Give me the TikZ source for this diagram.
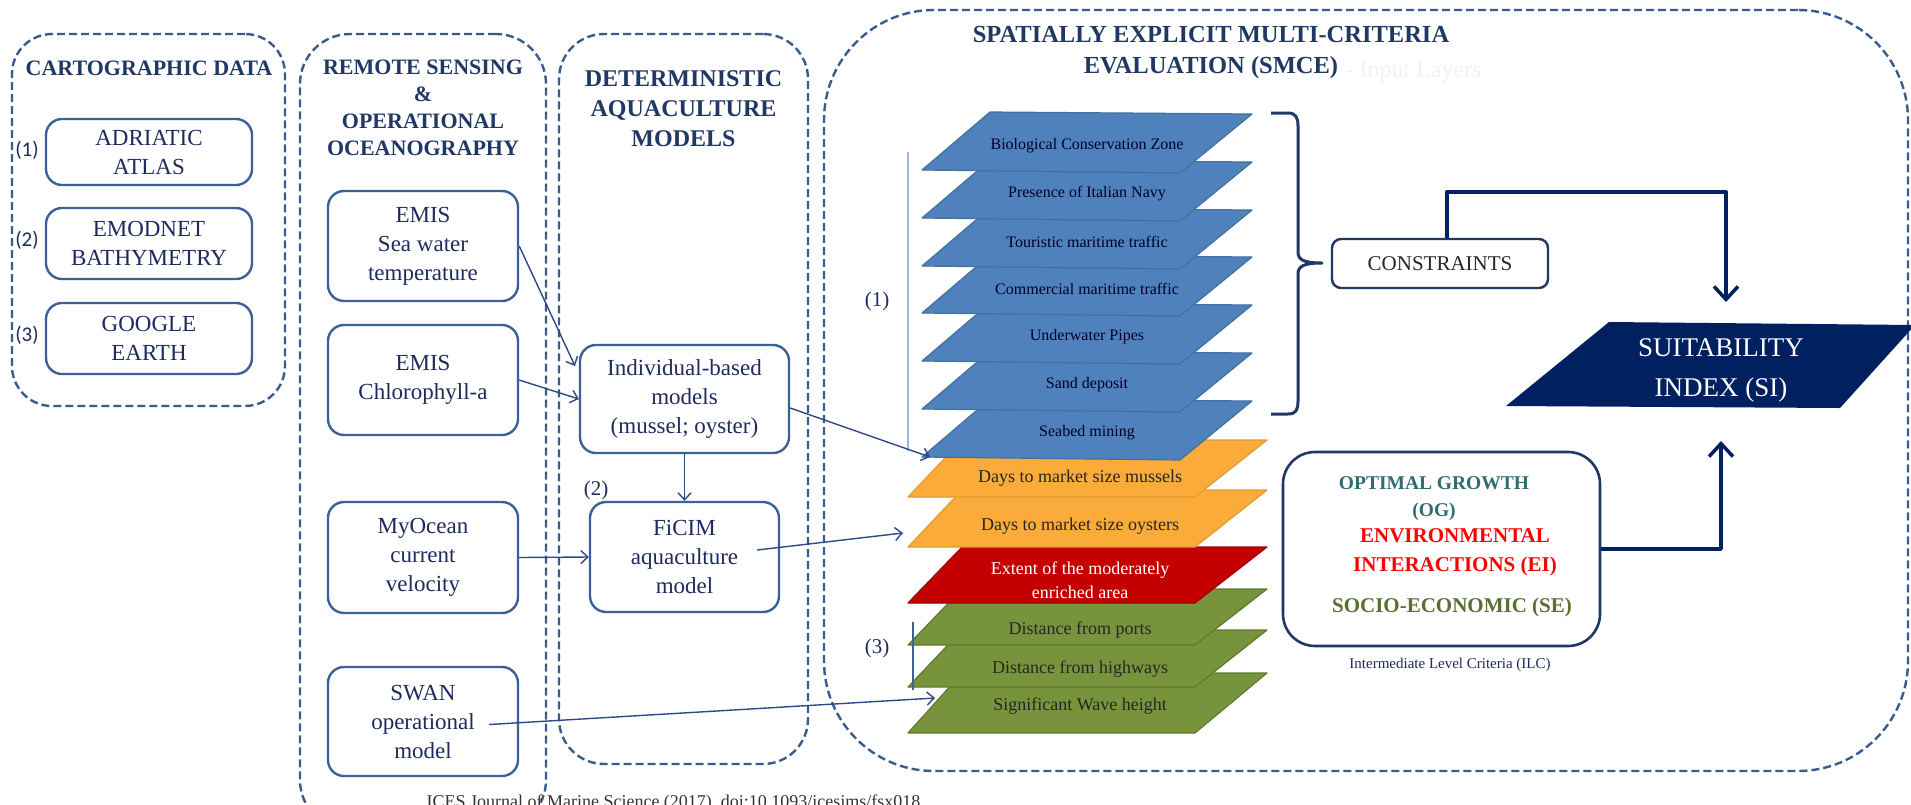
\documentclass[tikz,border=0pt]{standalone}
\usepackage{fontspec}
\setmainfont{Liberation Serif}
\newfontfamily\calfont{Carlito}
\usetikzlibrary{arrows.meta,calc}
\definecolor{navy}{HTML}{1F3864}
\definecolor{boxblue}{HTML}{3B6196}
\definecolor{dashblue}{HTML}{3A5C8C}
\definecolor{txtnavy}{HTML}{1F2B5E}
\definecolor{conblue}{HTML}{2E4A86}
\definecolor{layblue}{HTML}{4F81BD}
\definecolor{layblueb}{HTML}{41719C}
\definecolor{layorange}{HTML}{FAAB3A}
\definecolor{layorangeb}{HTML}{E39B30}
\definecolor{layred}{HTML}{C50000}
\definecolor{layredb}{HTML}{A00000}
\definecolor{laygreen}{HTML}{77933C}
\definecolor{laygreenb}{HTML}{60792F}
\definecolor{sinavy}{HTML}{002060}
\definecolor{ogteal}{HTML}{2F6D72}
\definecolor{eired}{HTML}{FF0000}
\definecolor{seolive}{HTML}{5A7031}
\definecolor{lightline}{HTML}{9DB7DA}
\newcommand{\bluelayer}[3]{%
  \filldraw[fill=layblue, draw=layblueb, line width=1.2pt] (922,#1+58) -- (1180,#1+61) -- (1252,#1+2) -- (990,#1) -- cycle;
  \node[bluelbl] (#2) at (1087,#1+34) {#3};}
\newcommand{\warmlayer}[8]{%
  \filldraw[fill=#1, draw=#2, line width=1.2pt] (908,#4) -- (1195,#4) -- (1267,#3) -- (962,#3) -- cycle;
  \node[warmlbl, text=#8] (#5) at (1080,#6) {#7};}
\begin{document}
\begin{tikzpicture}[x=1pt,y=-1pt,line join=round,
  solidbox/.style={draw=boxblue, line width=2.4pt, rounded corners=16pt, align=center, text=txtnavy,
     font=\fontsize{23}{29}\selectfont, inner sep=0pt},
  dashbox/.style={draw=dashblue, line width=2.4pt, dash pattern=on 8pt off 4pt, inner sep=0pt},
  title/.style={text=navy, font=\bfseries\fontsize{22}{27}\selectfont, align=center},
  conn/.style={draw=conblue, line width=1.4pt, -{Straight Barb[length=7pt,width=13pt]}},
  bigarrow/.style={draw=sinavy, line width=3.5pt, -{Straight Barb[length=13pt,width=24pt]}},
  bluelbl/.style={text=black!85!blue, font=\fontsize{16}{19}\selectfont},
  warmlbl/.style={font=\fontsize{18}{24}\selectfont, align=center},
  numlbl/.style={text=txtnavy, font=\fontsize{21}{25}\selectfont},
  clbl/.style={text=txtnavy, font=\calfont\fontsize{21}{25}\selectfont}]
\useasboundingbox (0,0) rectangle (1911,804);
\clip (0,0) rectangle (1911,804);
\fill[white] (0,0) rectangle (1911,804);

% ---- dashed containers
\node[dashbox, rounded corners=40pt, minimum width=273pt, minimum height=372pt] (cart) at (148.5,220) {};
\node[dashbox, rounded corners=50pt, minimum width=246pt, minimum height=796pt] (remote) at (423,432) {};
\node[dashbox, rounded corners=45pt, minimum width=249pt, minimum height=730pt] (det) at (683.5,399) {};
\node[dashbox, rounded corners=110pt, minimum width=1084pt, minimum height=761pt] (smce) at (1366,390.5) {};

% ---- titles
\node[title] (carttitle) at (149,68) {CARTOGRAPHIC DATA};
\node[title] (remotetitle) at (423,108) {REMOTE SENSING\\\&\\OPERATIONAL\\OCEANOGRAPHY};
\node[title, font=\bfseries\fontsize{24}{30}\selectfont] (dettitle) at (683.5,109) {DETERMINISTIC\\AQUACULTURE\\MODELS};
\node[title, font=\bfseries\fontsize{24.5}{31}\selectfont] (smcetitle) at (1211,52.5) {SPATIALLY EXPLICIT MULTI-CRITERIA\\EVALUATION (SMCE)};
\node[anchor=base west, text=black!5, font=\fontsize{24}{30}\selectfont] (faint) at (1342,77) {- Input Layers};

% ---- cartographic boxes
\node[solidbox, minimum width=206pt, minimum height=66pt] (adriatic) at (149,152) {ADRIATIC\\ATLAS};
\node[solidbox, minimum width=206pt, minimum height=71pt] (emodnet) at (149,243.5) {EMODNET\\BATHYMETRY};
\node[solidbox, minimum width=206pt, minimum height=71pt] (google) at (149,338.5) {GOOGLE\\EARTH};
\node[clbl] (c1) at (27,150) {(1)};
\node[clbl] (c2) at (27,240) {(2)};
\node[clbl] (c3) at (27,335) {(3)};

% ---- remote sensing boxes
\node[solidbox, minimum width=190pt, minimum height=110pt] (emis1) at (423,246) {EMIS\\Sea water\\temperature};
\node[solidbox, minimum width=190pt, minimum height=110pt] (emis2) at (423,380) {EMIS\\Chlorophyll-a};
\node[solidbox, minimum width=190pt, minimum height=111pt] (myocean) at (423,557.5) {MyOcean\\current\\velocity};
\node[solidbox, minimum width=190pt, minimum height=109pt] (swan) at (423,721.5) {SWAN\\operational\\model};

% ---- deterministic boxes
\node[solidbox, minimum width=209pt, minimum height=108pt] (ibm) at (684.5,399) {Individual-based\\models\\(mussel; oyster)};
\node[solidbox, minimum width=189pt, minimum height=110pt] (ficim) at (684.5,557) {FiCIM\\aquaculture\\model};
\node[numlbl] (n2) at (596,490) {(2)};

% ---- layers (drawn bottom to top)
\warmlayer{laygreen}{laygreenb}{673}{733}{wave}{706}{Significant Wave height}{black!85}
\warmlayer{laygreen}{laygreenb}{630}{687}{highways}{669}{Distance from highways}{black!85}
\warmlayer{laygreen}{laygreenb}{589}{645}{ports}{630}{Distance from ports}{black!85}
\warmlayer{layred}{layredb}{547}{603}{enriched}{580}{Extent of the moderately\\enriched area}{white}
\warmlayer{layorange}{layorangeb}{490}{547}{oysters}{526}{Days to market size oysters}{black!85}
\warmlayer{layorange}{layorangeb}{440}{497}{mussels}{478}{Days to market size mussels}{black!85}
\bluelayer{399}{seabed}{Seabed mining}
\bluelayer{351}{sand}{Sand deposit}
\bluelayer{303}{pipes}{Underwater Pipes}
\bluelayer{255}{commercial}{Commercial maritime  traffic}
\bluelayer{208}{touristic}{Touristic maritime  traffic}
\bluelayer{160}{navyl}{Presence of Italian Navy}
\bluelayer{112}{bio}{Biological Conservation Zone}

% ---- group markers
\draw[lightline, line width=1.5pt] (908,152) -- (908,451);
\node[numlbl] (g1) at (877,301) {(1)};
\draw[boxblue, line width=1.5pt] (913,622) -- (913,690);
\node[numlbl] (g3) at (877,648) {(3)};

% ---- brace and constraints
\draw[navy, line width=3pt] (1271,113) -- (1288,113) .. controls (1296,113) and (1298,118) .. (1298,126) -- (1298,252)
  .. controls (1298,260) and (1304,263) .. (1322,263) .. controls (1304,263) and (1298,266) .. (1298,274) -- (1298,401)
  .. controls (1298,410) and (1296,414) .. (1288,414) -- (1271,414);
\node[solidbox, draw=navy, line width=2.4pt, rounded corners=9pt, minimum width=216pt, minimum height=49pt,
  text=black!85, font=\fontsize{21}{25}\selectfont] (constraints) at (1440,263.5) {CONSTRAINTS};

% ---- suitability index
\fill[sinavy] (1506,406) -- (1840,408) -- (1915,325) -- (1609,322) -- cycle;
\node[text=white, align=center, font=\fontsize{27}{40}\selectfont] (si) at (1721,370) {SUITABILITY\\INDEX (SI)};
\coordinate (sitop) at (1726,302);
\coordinate (sibot) at (1721,441);

% ---- ILC box
\node[draw=navy, line width=2.6pt, rounded corners=32pt, minimum width=317pt, minimum height=194pt] (ilc) at (1441.5,549) {};
\node[text=ogteal, font=\bfseries\fontsize{19.5}{27}\selectfont, align=center] (og) at (1434,499) {OPTIMAL GROWTH\\(OG)};
\node[text=eired, font=\bfseries\fontsize{21}{29}\selectfont, align=center] (ei) at (1455,552) {ENVIRONMENTAL\\INTERACTIONS (EI)};
\node[text=seolive, font=\bfseries\fontsize{21}{26}\selectfont] (se) at (1452,607) {SOCIO-ECONOMIC (SE)};
\node[text=txtnavy, font=\fontsize{15}{18}\selectfont] (ilclbl) at (1450,665) {Intermediate Level Criteria (ILC)};

% ---- connectors
\draw[conn] (emis1.east) -- (575,366);
\draw[conn] (emis2.east) -- (ibm.west);
\draw[conn] (ibm.south) -- (ficim.north);
\draw[conn] (myocean.east) -- (ficim.west);
\coordinate (mustip) at (930,457);
\coordinate (oystip) at (903,533);
\coordinate (wavetip) at (935,698);
\draw[conn] ($(ibm.east)+(0,9)$) -- (mustip);
\draw[conn] ($(ficim.east)+(-23,-7)$) -- (oystip);
\draw[conn] ($(swan.east)+(-30,3)$) -- (wavetip);
\draw[bigarrow] ($(constraints.north)+(7,0)$) -- ++(0,-46) -| (sitop);
\draw[bigarrow] (ilc.east) -| (sibot);

% ---- footer (cut by the lower edge, as in the reference)
\node[anchor=base west, text=black!80, font=\fontsize{18}{22}\selectfont] (footer) at (423,807) {ICES Journal of Marine Science (2017), doi:10.1093/icesjms/fsx018};
\end{tikzpicture}
\end{document}
